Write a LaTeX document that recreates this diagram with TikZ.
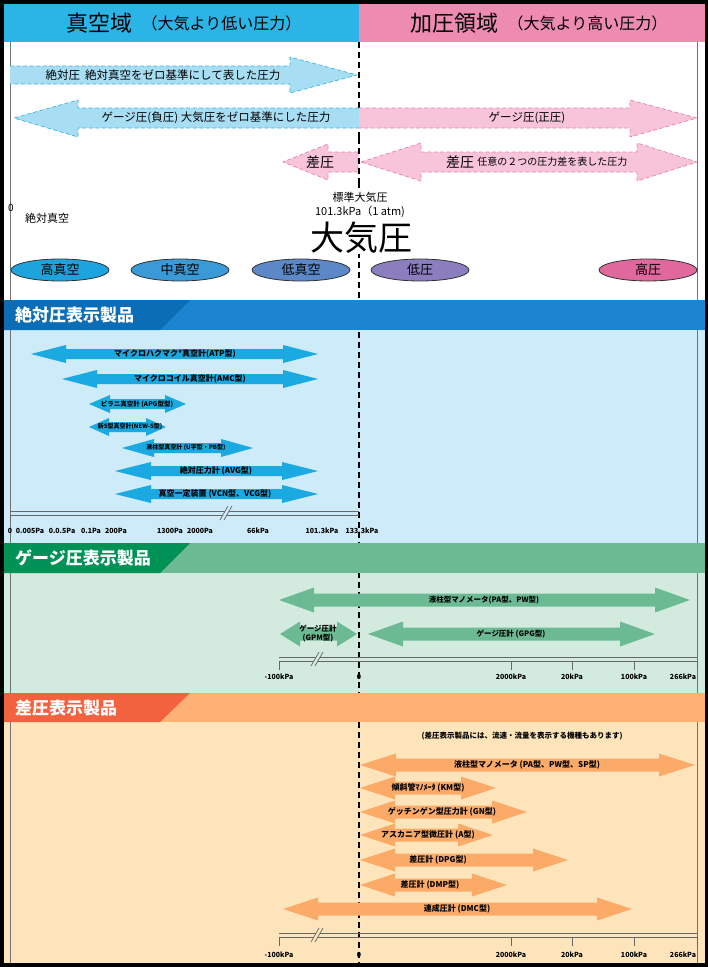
\documentclass[tikz,border=0pt]{standalone}
\usepackage{fontspec}
\setmainfont{Noto Sans CJK JP}
\usetikzlibrary{shapes.geometric,positioning}

\definecolor{vachead}{HTML}{2BB4E6}
\definecolor{preshead}{HTML}{EE8BB0}
\definecolor{absfill}{HTML}{A8DEF3}
\definecolor{absline}{HTML}{3CB5E3}
\definecolor{gaufill}{HTML}{F8C4DA}
\definecolor{gauline}{HTML}{E583AB}
\definecolor{onedark}{HTML}{0A6DB5}
\definecolor{onelight}{HTML}{1B86CF}
\definecolor{onebody}{HTML}{CDEBF8}
\definecolor{onearrow}{HTML}{1AA9E1}
\definecolor{twodark}{HTML}{009157}
\definecolor{twolight}{HTML}{6CBA93}
\definecolor{twobody}{HTML}{D3EBDE}
\definecolor{threedark}{HTML}{F2623E}
\definecolor{threelight}{HTML}{FFB074}
\definecolor{threebody}{HTML}{FEE4BA}
\definecolor{threearrow}{HTML}{FBAA68}

\newcommand{\twohead}[7]{%
  \fill[#1] (#2,#4) -- ({#2+#5},{#4-#6}) -- ({#2+#5},{#4-#7})
    -- ({#3-#5},{#4-#7}) -- ({#3-#5},{#4-#6}) -- (#3,#4)
    -- ({#3-#5},{#4+#6}) -- ({#3-#5},{#4+#7}) -- ({#2+#5},{#4+#7})
    -- ({#2+#5},{#4+#6}) -- cycle;}
\newcommand{\doubleaxis}[5]{%
  \draw[axisline] (#1,#3) -- (#2,#3) (#1,{#3+4}) -- (#2,{#3+4});
  \fill[#5] ({#4-6},{#3+9}) -- ({#4-2},{#3+9}) -- ({#4+6},{#3-5}) -- ({#4+2},{#3-5}) -- cycle;
  \draw[axisline] ({#4-6},{#3+9}) -- ({#4+2},{#3-5}) ({#4-2},{#3+9}) -- ({#4+6},{#3-5});}

\begin{document}
\begin{tikzpicture}[x=1pt,y=-1pt,
  edge/.style={draw=black!55, line width=0.8pt},
  midline/.style={draw=black, line width=1.8pt, dash pattern=on 6pt off 4pt},
  dashedge/.style={draw=#1, line width=0.7pt, dash pattern=on 4pt off 2.5pt},
  zone/.style={ellipse, draw=black!80, line width=0.8pt, minimum width=98pt,
    minimum height=22pt, inner sep=0pt, font=\fontsize{13}{13}\selectfont},
  sectitle/.style={anchor=west, text=white, inner sep=0pt,
    font=\fontsize{17}{17}\selectfont\bfseries},
  toplabel/.style={inner sep=0pt, font=\fontsize{11.5}{12}\selectfont},
  prodlabel/.style={inner sep=0pt, font=\fontsize{8}{9}\selectfont\bfseries, align=center},
  ticklabel/.style={inner sep=0pt, font=\fontsize{7}{8}\selectfont\bfseries},
  axisline/.style={draw=black!60, line width=0.7pt},
]
\useasboundingbox (0,0) rectangle (708,967);
\fill[black] (0,0) rectangle (708,967);
\fill[white] (4,42) rectangle (705,300);
\fill[onebody] (4,330) rectangle (705,543);
\fill[twobody] (4,573) rectangle (705,693);
\fill[threebody] (4,722) rectangle (705,963);
\fill[vachead] (4,4) rectangle (359,42);
\fill[preshead] (359,4) rectangle (705,42);
\draw[edge] (10,42) -- (10,963) (697,42) -- (697,963);
\draw[midline] (359,42) -- (359,963);

\node[anchor=west, inner sep=0pt, font=\fontsize{22}{22}\selectfont] (vacuum) at (66,23) {真空域};
\node[right=9pt of vacuum, inner sep=0pt, font=\fontsize{16}{16}\selectfont] (vacnote) {（大気より低い圧力）};
\node[anchor=west, inner sep=0pt, font=\fontsize{22}{22}\selectfont] (pressure) at (410,23) {加圧領域};
\node[right=9pt of pressure, inner sep=0pt, font=\fontsize{16}{16}\selectfont] (presnote) {（大気より高い圧力）};

\fill[absfill] (10,66) -- (290,66) -- (290,57) -- (357,75) -- (290,93) -- (290,84) -- (10,84) -- cycle;
\draw[dashedge=absline] (10,66) -- (290,66) -- (290,57) -- (357,75) -- (290,93) -- (290,84) -- (10,84);
\node[toplabel] (absolute) at (163,75) {絶対圧\ \ 絶対真空をゼロ基準にして表した圧力};

\fill[absfill] (359,108) -- (78,108) -- (78,100) -- (14,118) -- (78,137) -- (78,128) -- (359,128) -- cycle;
\draw[dashedge=absline] (359,108) -- (78,108) -- (78,100) -- (14,118) -- (78,137) -- (78,128) -- (359,128);
\fill[gaufill] (359,108) -- (630,108) -- (630,100) -- (697,118) -- (630,137) -- (630,128) -- (359,128) -- cycle;
\draw[dashedge=gauline] (359,108) -- (630,108) -- (630,100) -- (697,118) -- (630,137) -- (630,128) -- (359,128);
\node[toplabel] (negative) at (216,118) {ゲージ圧(負圧) 大気圧をゼロ基準にした圧力};
\node[toplabel] (positive) at (527,118) {ゲージ圧(正圧)};

\fill[white] (356,140) rectangle (362,184);
\fill[gaufill] (358,152) -- (328,152) -- (328,144) -- (283,162) -- (328,180) -- (328,172) -- (358,172) -- cycle;
\draw[dashedge=gauline] (358,152) -- (328,152) -- (328,144) -- (283,162) -- (328,180) -- (328,172) -- (358,172) -- cycle;
\twohead{gaufill}{361}{697}{162}{60}{19}{10}
\draw[dashedge=gauline] (361,162) -- (421,143) -- (421,152) -- (637,152) -- (637,143) -- (697,162)
  -- (637,181) -- (637,172) -- (421,172) -- (421,181) -- cycle;
\draw[midline] (359,138) -- (359,186);
\node[inner sep=0pt, font=\fontsize{14}{14}\selectfont] (diffleft) at (320,162) {差圧};
\node[inner sep=0pt, font=\fontsize{14}{14}\selectfont] (diffright) at (460,162) {差圧};
\node[right=3pt of diffright, inner sep=0pt, font=\fontsize{10}{10}\selectfont] (diffnote) {任意の２つの圧力差を表した圧力};

\node[inner sep=0pt, font=\fontsize{10}{10}\selectfont] (zero) at (11,208) {0};
\node[toplabel, font=\fontsize{11}{12}\selectfont] (absvac) at (47,218) {絶対真空};
\node[inner sep=1pt, fill=white, align=center, font=\fontsize{11}{14}\selectfont] (stdatm) at (360,205) {標準大気圧\\101.3kPa（1 atm)};
\node[inner sep=0pt, fill=white, font=\fontsize{34}{34}\selectfont] (atm) at (361,238) {大気圧};

\node[zone, fill={rgb,255:red,29;green,164;blue,223}] (hivac) at (60,270) {高真空};
\node[zone, fill={rgb,255:red,58;green,153;blue,215}] (midvac) at (180,270) {中真空};
\node[zone, fill={rgb,255:red,92;green,136;blue,200}] (lovac) at (301,270) {低真空};
\node[zone, fill={rgb,255:red,139;green,126;blue,190}] (lopres) at (420,270) {低圧};
\node[zone, fill={rgb,255:red,224;green,104;blue,156}] (hipres) at (648,270) {高圧};

\fill[onelight] (4,300) rectangle (705,330);
\fill[onedark] (4,300) -- (190,300) -- (160,330) -- (4,330) -- cycle;
\node[sectitle] (abshead) at (15,315) {絶対圧表示製品};

\twohead{onearrow}{31}{318}{354}{35}{9}{5}
\twohead{onearrow}{62}{318}{379}{35}{9}{5}
\twohead{onearrow}{89}{186}{404}{21}{9}{5}
\twohead{onearrow}{89}{166}{427}{20}{9}{5}
\twohead{onearrow}{122}{253}{448}{32}{9}{5}
\twohead{onearrow}{115}{318}{471}{36}{9}{5}
\twohead{onearrow}{115}{318}{494}{36}{9}{5}
\node[prodlabel] (atp) at (175,354) {マイクロハクマク*真空計(ATP型)};
\node[prodlabel] (amc) at (190,379) {マイクロコイル真空計(AMC型)};
\node[prodlabel, font=\fontsize{6.5}{7}\selectfont\bfseries] (apg) at (137,404) {ピラニ真空計 (APG型型)};
\node[prodlabel, font=\fontsize{6}{7}\selectfont\bfseries] (news) at (130,427) {新S型真空計(NEW-S型)};
\node[prodlabel, font=\fontsize{6}{7}\selectfont\bfseries] (ucol) at (186,448) {液柱型真空計 (U字型・PB型)};
\node[prodlabel] (avg) at (216,471) {絶対圧力計 (AVG型)};
\node[prodlabel] (vcn) at (215,494) {真空一定装置 (VCN型、VCG型)};

\doubleaxis{10}{359}{511}{226}{onebody}
\draw[axisline] (10,515) -- (10,521);
\foreach \x/\t in {10/0,30/0.005Pa,62/0.0.5Pa,91/0.1Pa,116/200Pa,170/1300Pa,200/2000Pa,258/66kPa,322/101.3kPa,362/133.3kPa}
  \node[ticklabel] (a\x) at (\x,531) {\t};

\fill[twolight] (4,543) rectangle (705,573);
\fill[twodark] (4,543) -- (190,543) -- (160,573) -- (4,573) -- cycle;
\node[sectitle] (gauhead) at (15,558) {ゲージ圧表示製品};

\twohead{twolight}{279}{690}{600}{35}{12.5}{6.5}
\twohead{twolight}{280}{357}{634}{20}{12.5}{6.5}
\twohead{twolight}{368}{655}{634}{35}{12.5}{6.5}
\node[prodlabel, font=\fontsize{7.5}{8}\selectfont\bfseries] (pa) at (484,600) {液柱型マノメータ(PA型、PW型)};
\node[prodlabel, font=\fontsize{7.5}{9}\selectfont\bfseries] (gpm) at (318,634) {ゲージ圧計\\(GPM型)};
\node[prodlabel, font=\fontsize{7.5}{8}\selectfont\bfseries] (gpg) at (511,634) {ゲージ圧計 (GPG型)};

\doubleaxis{279}{697}{657}{317}{twobody}
\foreach \x in {279,511,572,634,697}
  \draw[axisline] (\x,661) -- (\x,670);
\foreach \x/\t in {279/-100kPa,359/0,511/2000kPa,572/20kPa,634/100kPa,683/266kPa}
  \node[ticklabel] (g\x) at (\x,677) {\t};

\fill[threelight] (4,693) rectangle (705,722);
\fill[threedark] (4,693) -- (190,693) -- (160,722) -- (4,722) -- cycle;
\node[sectitle] (diffhead) at (15,708) {差圧表示製品};

\node[prodlabel, font=\fontsize{7.5}{8}\selectfont\bfseries] (flow) at (522,736) {(差圧表示製品には、流速・流量を表示する機種もあります)};
\twohead{threearrow}{360}{695}{765}{36}{11.5}{6.5}
\twohead{threearrow}{360}{496}{788}{35}{11.5}{6.5}
\twohead{threearrow}{360}{527}{812}{35}{11.5}{6.5}
\twohead{threearrow}{360}{493}{835}{35}{11.5}{6.5}
\twohead{threearrow}{360}{568}{860}{35}{11.5}{6.5}
\twohead{threearrow}{360}{507}{885}{35}{11.5}{6.5}
\twohead{threearrow}{283}{632}{909}{35}{11.5}{6.5}
\node[prodlabel] (sp) at (527,765) {液柱型マノメータ (PA型、PW型、SP型)};
\node[prodlabel] (km) at (428,788) {傾斜管ﾏﾉﾒｰﾀ (KM型)};
\node[prodlabel] (gn) at (442,812) {ゲッチンゲン型圧力計 (GN型)};
\node[prodlabel] (askania) at (428,835) {アスカニア型微圧計 (A型)};
\node[prodlabel] (dpg) at (438,860) {差圧計 (DPG型)};
\node[prodlabel] (dmp) at (430,885) {差圧計 (DMP型)};
\node[prodlabel] (dmc) at (457,909) {連成圧計 (DMC型)};

\doubleaxis{279}{697}{933}{317}{threebody}
\foreach \x in {279,511,572,634,697}
  \draw[axisline] (\x,937) -- (\x,946);
\foreach \x/\t in {279/-100kPa,359/0,511/2000kPa,572/20kPa,634/100kPa,683/266kPa}
  \node[ticklabel] (d\x) at (\x,955) {\t};
\end{tikzpicture}
\end{document}
